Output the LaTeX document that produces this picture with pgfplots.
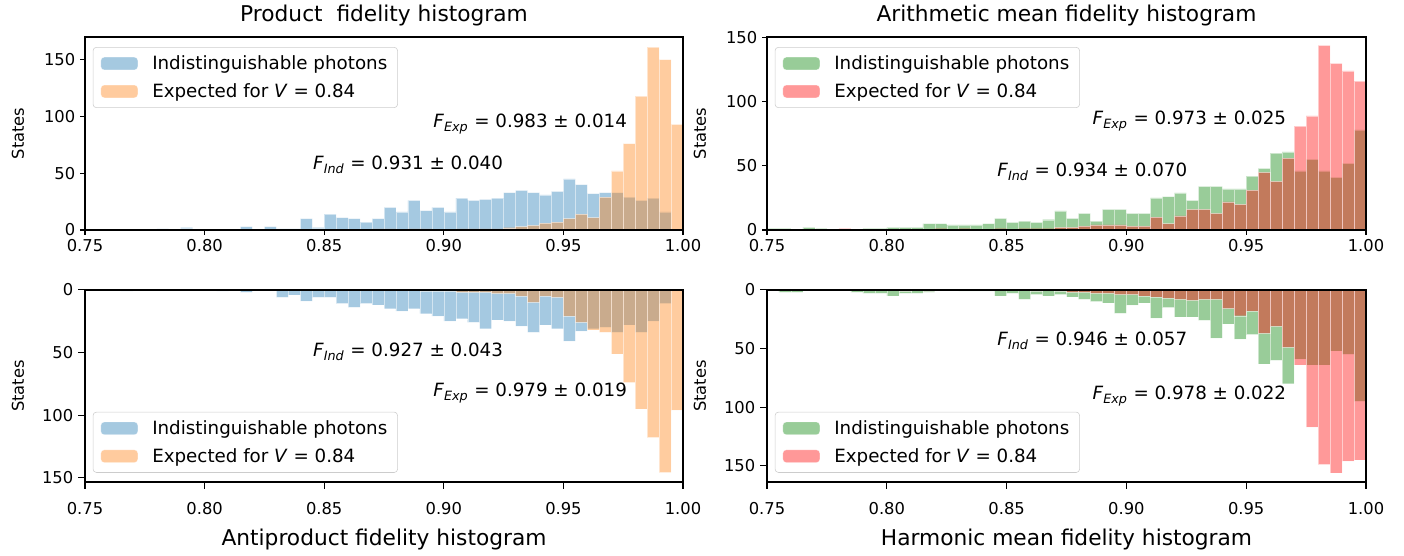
\documentclass[border=0pt]{standalone}
\usepackage{pgfplots}
\pgfplotsset{compat=1.18}
\usepackage{pgfplotstable}
\usepackage{fontspec}
\setmainfont{DejaVu Sans}

\definecolor{cblue}{RGB}{31,119,180}
\definecolor{corange}{RGB}{255,127,14}
\definecolor{cgreen}{RGB}{0,128,0}
\definecolor{cred}{RGB}{255,0,0}

% F_{sub} = mean ± std
\newcommand{\F}[3]{\textit{F}\textsubscript{\textit{#1}} = #2 ± #3}

% bin start, then counts: tl = product, bl = antiproduct, tr = arithmetic, br = harmonic
% A = indistinguishable photons, B = expected for V = 0.84
\pgfplotstableread{
x     tlA tlB blA blB trA trB brA brB
0.750 0 0 0 0 1 0 0 0
0.755 0 0 0 0 1 0 2 0
0.760 0 0 0 0 0 0 2 0
0.765 0 0 1 0 2 0 0 0
0.770 0 0 0 0 1 0 0 0
0.775 0 0 0 0 0 0 0 0
0.780 1 0 0 0 0 1 0 0
0.785 0 0 0 0 0 0 2 0
0.790 2 0 0 0 1 0 3 0
0.795 0 0 0 0 1 0 3 0
0.800 0 0 0 0 2 0 5 0
0.805 0 0 1 0 2 0 3 1
0.810 0 0 0 0 2 0 3 0
0.815 3 0 2 0 5 0 2 1
0.820 0 0 0 0 5 1 0 0
0.825 3 0 0 0 4 0 0 0
0.830 1 0 6 0 4 1 1 0
0.835 1 0 4 0 4 0 1 0
0.840 10 0 9 0 5 0 1 0
0.845 2 0 6 0 9 1 5 0
0.850 14 0 6 0 6 0 3 0
0.855 11 0 11 0 7 1 8 0
0.860 10 0 14 0 6 1 4 1
0.865 7 0 11 0 8 1 5 0
0.870 10 1 12 0 15 2 4 1
0.875 20 1 15 0 9 2 6 2
0.880 16 0 17 0 13 3 8 2
0.885 26 1 15 0 7 4 10 3
0.890 17 1 19 1 16 4 11 3
0.895 20 0 21 1 16 4 20 4
0.900 16 0 25 1 13 3 13 4
0.905 28 1 23 2 13 3 11 5
0.910 26 1 26 2 25 10 24 6
0.915 27 1 31 2 26 5 15 7
0.920 28 1 24 3 29 11 23 8
0.925 33 2 25 3 23 16 23 9
0.930 35 3 29 5 34 16 26 8
0.935 33 4 34 10 34 13 41 8
0.940 31 6 28 5 32 22 29 16
0.945 34 7 31 6 32 20 42 22
0.950 45 10 41 21 42 31 38 18
0.955 40 14 33 26 48 45 63 37
0.960 32 11 31 32 60 38 60 31
0.965 33 29 30 34 61 56 80 49
0.970 33 52 34 51 46 81 59 64
0.975 29 76 28 74 55 89 64 117
0.980 26 118 34 95 46 144 64 149
0.985 28 161 25 118 41 130 52 156
0.990 16 150 11 146 52 124 55 146
0.995 0 93 0 96 78 116 95 145
1.000 0 0 0 0 0 0 0 0
}\hist

\tikzset{ann/.style={anchor=west, inner sep=0pt, font=\fontsize{13.2}{15}\selectfont}}

\pgfplotsset{
  hpanel/.style={
    scale only axis, width=432.2pt, height=139.5pt,
    xmin=0.75, xmax=1.0, ymin=0,
    xtick={0.75,0.8,0.85,0.9,0.95,1.0},
    ytick={0,50,100,150},
    xticklabel style={/pgf/number format/fixed, /pgf/number format/fixed zerofill,
      /pgf/number format/precision=2},
    /pgf/number format/assume math mode=true,
    tick align=outside, xtick pos=left, ytick pos=left,
    major tick length=3.5pt,
    tick style={black, line width=0.8pt},
    axis line style={line width=1.1pt},
    axis on top,
    tick label style={font=\fontsize{11.8}{13}\selectfont},
    ylabel={States},
    ylabel style={at={(axis description cs:-0.112,0.5)}, anchor=center, font=\fontsize{11.8}{13}\selectfont},
    legend cell align=left,
    legend style={draw=black!20, rounded corners=2.5pt, fill=white, fill opacity=0.8, text opacity=1,
      font=\fontsize{13.2}{15}\selectfont, inner xsep=5.5pt, inner ysep=4pt, row sep=4.6pt,
      nodes={inner sep=2pt}},
    every axis title shift=0pt,
    title style={at={(axis description cs:0.5,1.113)}, anchor=center, font=\fontsize{15.7}{18}\selectfont},
    xlabel style={at={(axis description cs:0.5,-0.302)}, anchor=center, font=\fontsize{15.7}{18}\selectfont},
  },
  % lower panels: counts hang down, longer ticks
  lowpanel/.style={hpanel, height=138.8pt, y dir=reverse,
    major tick length=5pt,
    xticklabel style={yshift=-6pt},
    legend style={at={(0.013,0.048)}, anchor=south west}},
  hbar/.style={ybar interval, fill=#1, fill opacity=0.4, draw=white, draw opacity=0.5, line width=0.3pt,
    legend image code/.code={\fill[##1] (0pt,-4.6pt) rectangle (26.7pt,4.6pt); \path (35pt,0pt);}},
}

\begin{document}
\begin{tikzpicture}
\path[use as bounding box] (0,0) rectangle (1014.67pt,401.82pt);

% top left
\begin{axis}[hpanel, at={(61.43pt,235.6pt)}, ymax=170,
  title={Product~ fidelity histogram},
  legend style={at={(0.013,0.948)}, anchor=north west}]
\addplot[hbar=cblue] table[x=x, y=tlA] {\hist};
\addlegendentry{Indistinguishable photons}
\addplot[hbar=corange] table[x=x, y=tlB] {\hist};
\addlegendentry{Expected for \textit{V} = 0.84}
\node[ann] at (axis description cs:0.582,0.549) {\F{Exp}{0.983}{0.014}};
\node[ann] at (axis description cs:0.381,0.337) {\F{Ind}{0.931}{0.040}};
\end{axis}

% top right
\begin{axis}[hpanel, at={(554.31pt,235.6pt)}, width=432.9pt, ymax=150.5,
  title={Arithmetic mean fidelity histogram},
  legend style={at={(0.013,0.948)}, anchor=north west}]
\addplot[hbar=cgreen] table[x=x, y=trA] {\hist};
\addlegendentry{Indistinguishable photons}
\addplot[hbar=cred] table[x=x, y=trB] {\hist};
\addlegendentry{Expected for \textit{V} = 0.84}
\node[ann] at (axis description cs:0.543,0.565) {\F{Exp}{0.973}{0.025}};
\node[ann] at (axis description cs:0.384,0.30) {\F{Ind}{0.934}{0.070}};
\end{axis}

% bottom left
\begin{axis}[lowpanel, at={(61.43pt,53.48pt)}, ymax=153.5,
  xlabel={Antiproduct fidelity histogram}]
\addplot[hbar=cblue] table[x=x, y=blA] {\hist};
\addlegendentry{Indistinguishable photons}
\addplot[hbar=corange] table[x=x, y=blB] {\hist};
\addlegendentry{Expected for \textit{V} = 0.84}
\node[ann] at (axis description cs:0.381,0.677) {\F{Ind}{0.927}{0.043}};
\node[ann] at (axis description cs:0.582,0.464) {\F{Exp}{0.979}{0.019}};
\end{axis}

% bottom right
\begin{axis}[lowpanel, at={(554.31pt,53.48pt)}, width=432.9pt, ymax=163.8,
  xlabel={Harmonic mean fidelity histogram}]
\addplot[hbar=cgreen] table[x=x, y=brA] {\hist};
\addlegendentry{Indistinguishable photons}
\addplot[hbar=cred] table[x=x, y=brB] {\hist};
\addlegendentry{Expected for \textit{V} = 0.84}
\node[ann] at (axis description cs:0.384,0.734) {\F{Ind}{0.946}{0.057}};
\node[ann] at (axis description cs:0.543,0.448) {\F{Exp}{0.978}{0.022}};
\end{axis}
\end{tikzpicture}
\end{document}
